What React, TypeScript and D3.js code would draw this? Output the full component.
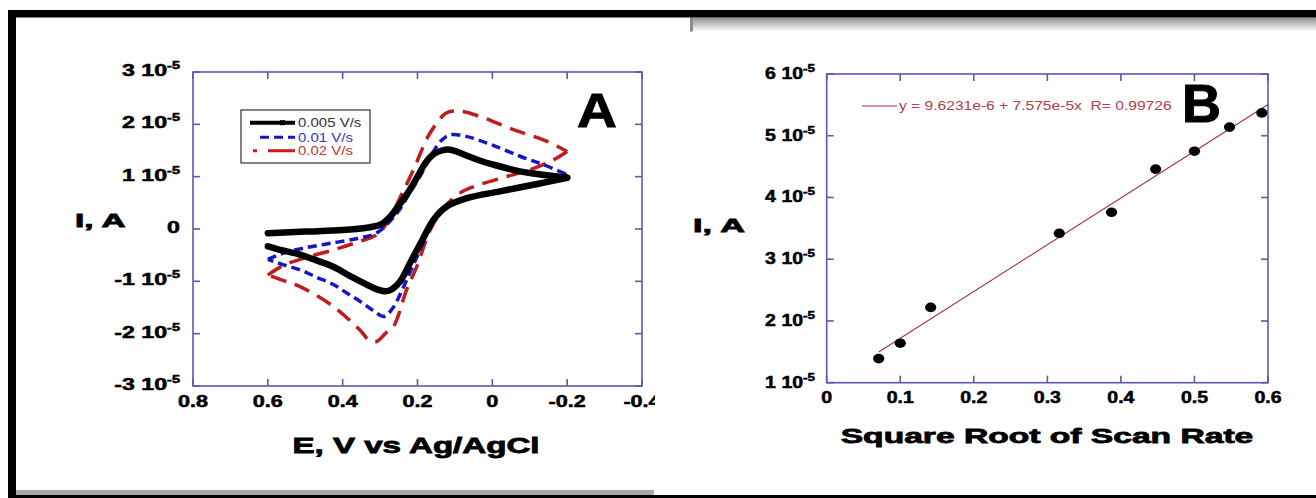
import React from "react";
import * as d3 from "d3";

const W = 1316;
const H = 498;
const FONT = "'Liberation Sans', Arial, Helvetica, sans-serif";
const AXIS = "#5a5ab0";

// Panel A: cyclic voltammograms, [E (V), I (1e-5 A)]
const cvLabels = ["0.005 V/s", "0.01 V/s", "0.02 V/s"];

const cv005Fwd: [number, number][] = [
  [0.6, -0.08], [0.5, -0.05], [0.4, -0.02], [0.34, 0.02], [0.3, 0.08], [0.275, 0.22],
  [0.25, 0.45], [0.225, 0.7], [0.2, 1.0], [0.18, 1.25], [0.157, 1.43], [0.135, 1.5],
  [0.118, 1.52], [0.095, 1.48], [0.068, 1.4], [0.03, 1.3], [-0.003, 1.23],
  [-0.074, 1.1], [-0.12, 1.05], [-0.2, 0.98],
];
const cv005Rev: [number, number][] = [
  [-0.2, 0.98], [-0.12, 0.86], [-0.02, 0.72], [0.068, 0.59], [0.122, 0.43], [0.157, 0.18],
  [0.19, -0.25], [0.22, -0.65], [0.246, -1.0], [0.268, -1.15], [0.285, -1.19],
  [0.31, -1.15], [0.336, -1.06], [0.38, -0.9], [0.425, -0.72], [0.47, -0.6],
  [0.514, -0.49], [0.56, -0.41], [0.6, -0.33],
];
const cv01Fwd: [number, number][] = [
  [0.6, -0.58], [0.55, -0.44], [0.5, -0.36], [0.43, -0.27], [0.36, -0.18], [0.31, -0.08],
  [0.28, 0.1], [0.25, 0.35], [0.22, 0.7], [0.19, 1.05], [0.16, 1.45], [0.135, 1.7],
  [0.113, 1.8], [0.07, 1.77], [0.006, 1.62], [-0.074, 1.39], [-0.14, 1.22], [-0.2, 1.04],
];
const cv01Rev: [number, number][] = [
  [-0.2, 1.04], [-0.12, 0.88], [-0.02, 0.74], [0.07, 0.6], [0.125, 0.42], [0.16, 0.12],
  [0.19, -0.35], [0.215, -0.75], [0.24, -1.15], [0.265, -1.5], [0.29, -1.67],
  [0.32, -1.55], [0.354, -1.38], [0.39, -1.22], [0.425, -1.06], [0.47, -0.92],
  [0.514, -0.78], [0.56, -0.68], [0.6, -0.58],
];
const cv02Fwd: [number, number][] = [
  [0.6, -0.88], [0.56, -0.7], [0.5, -0.55], [0.425, -0.4], [0.36, -0.25], [0.31, -0.11],
  [0.282, 0.11], [0.25, 0.55], [0.211, 1.13], [0.166, 1.84], [0.122, 2.22], [0.086, 2.25],
  [0.033, 2.15], [-0.056, 1.9], [-0.145, 1.68], [-0.2, 1.48],
];
const cv02Rev: [number, number][] = [
  [-0.2, 1.48], [-0.163, 1.32], [-0.1, 1.13], [-0.038, 1.0], [0.033, 0.85], [0.086, 0.69],
  [0.13, 0.4], [0.166, -0.02], [0.202, -0.72], [0.229, -1.16], [0.264, -1.86],
  [0.285, -1.99], [0.309, -2.15], [0.33, -2.12], [0.354, -1.93], [0.425, -1.48],
  [0.514, -1.1], [0.56, -0.98], [0.6, -0.88],
];

const eTicks = [0.8, 0.6, 0.4, 0.2, 0, -0.2, -0.4];
const iTicksA = [3, 2, 1, 0, -1, -2, -3];

// Panel B: peak current vs square root of scan rate
const sqrtRate = [0.0707, 0.1, 0.1414, 0.3162, 0.3873, 0.4472, 0.5, 0.5477, 0.5916];
const peakI = [1.39, 1.64, 2.22, 3.42, 3.76, 4.46, 4.75, 5.14, 5.37]; // 1e-5 A
const fitIntercept = 9.6231e-6;
const fitSlope = 7.575e-5;
const fitLabel = "y = 9.6231e-6 + 7.575e-5x  R= 0.99726";
const rTicks = [0, 0.1, 0.2, 0.3, 0.4, 0.5, 0.6];
const iTicksB = [6, 5, 4, 3, 2, 1];

function ST(props: any) {
  const { x, y, sx = 1, size, anchor = "middle", weight = "bold", fill = "#000", heavy = 0, children } = props;
  return (
    <text
      transform={`translate(${x},${y}) scale(${sx},1)`}
      fontSize={size}
      fontWeight={weight}
      textAnchor={anchor}
      fill={fill}
      stroke={heavy ? fill : "none"}
      strokeWidth={heavy}
      fontFamily={FONT}
      style={{ whiteSpace: "pre" }}
    >
      {children}
    </text>
  );
}

function sciLabel(v: number, supSize: number) {
  if (v === 0) return "0";
  return [
    <tspan key="m">{`${v} 10`}</tspan>,
    <tspan key="s" dy={-7} fontSize={supSize}>-5</tspan>,
  ];
}

function PanelA() {
  const x = d3.scaleLinear().domain([0.8, -0.4]).range([193, 642]);
  const y = d3.scaleLinear().domain([-3, 3]).range([386, 72]);
  const line = d3
    .line<[number, number]>()
    .x((d) => x(d[0]))
    .y((d) => y(d[1]))
    .curve(d3.curveCatmullRom.alpha(0.5));
  const [x0, x1] = x.range();
  const [y0, y1] = y.range();
  const tk = 7;
  const red = "#c01c1c";
  const blue = "#1515c8";

  return (
    <g>
      <rect x={x0} y={y1} width={x1 - x0} height={y0 - y1} fill="none" stroke={AXIS} strokeWidth={1.6} />
      {eTicks.map((t) => (
        <g key={"ex" + t}>
          <line x1={x(t)} x2={x(t)} y1={y0} y2={y0 - tk} stroke={AXIS} strokeWidth={1.6} />
          <line x1={x(t)} x2={x(t)} y1={y1} y2={y1 + tk} stroke={AXIS} strokeWidth={1.6} />
          <ST x={x(t)} y={y0 + 21} sx={1.35} size={16} heavy={0.5}>{String(t)}</ST>
        </g>
      ))}
      {iTicksA.map((t) => (
        <g key={"iy" + t}>
          <line x1={x0} x2={x0 + tk} y1={y(t)} y2={y(t)} stroke={AXIS} strokeWidth={1.6} />
          <line x1={x1} x2={x1 - tk} y1={y(t)} y2={y(t)} stroke={AXIS} strokeWidth={1.6} />
          <ST x={180} y={y(t) + 4} sx={1.45} size={16} anchor="end" heavy={0.5}>{sciLabel(t, 10)}</ST>
        </g>
      ))}

      <path d={line(cv02Fwd) || ""} fill="none" stroke={red} strokeWidth={3.5} strokeDasharray="16,9" />
      <path d={line(cv02Rev) || ""} fill="none" stroke={red} strokeWidth={3.5} strokeDasharray="16,9" />
      <path d={line(cv01Fwd) || ""} fill="none" stroke={blue} strokeWidth={3.5} strokeDasharray="9,5" />
      <path d={line(cv01Rev) || ""} fill="none" stroke={blue} strokeWidth={3.5} strokeDasharray="9,5" />
      <path d={line(cv005Fwd) || ""} fill="none" stroke="#000" strokeWidth={6.5} strokeLinecap="round" strokeLinejoin="round" />
      <path d={line(cv005Rev) || ""} fill="none" stroke="#000" strokeWidth={6.5} strokeLinecap="round" strokeLinejoin="round" />

      {/* legend */}
      <rect x={241} y={110} width={129} height={53} fill="#fff" stroke="#333" strokeWidth={1.2} />
      <line x1={250} x2={295} y1={122.7} y2={122.7} stroke="#000" strokeWidth={4} />
      <rect x={280} y={120.2} width={5} height={5} fill="#000" />
      <line x1={260} x2={295} y1={137.3} y2={137.3} stroke={blue} strokeWidth={3} strokeDasharray="9,5" />
      <line x1={253} x2={295} y1={150.7} y2={150.7} stroke={red} strokeWidth={3} strokeDasharray="4,11,27" />
      <ST x={298} y={127} sx={1.2} size={12.5} anchor="start" weight="normal" fill="#333">{cvLabels[0]}</ST>
      <ST x={298} y={141.6} sx={1.2} size={12.5} anchor="start" weight="normal" fill="#3535c0">{cvLabels[1]}</ST>
      <ST x={298} y={155} sx={1.2} size={12.5} anchor="start" weight="normal" fill="#c03535">{cvLabels[2]}</ST>

      <ST x={597} y={127} sx={1.15} size={48} heavy={1}>A</ST>
      <ST x={75} y={227} sx={1.75} size={19} anchor="start" heavy={0.8}>I, A</ST>
      <ST x={416} y={452.7} sx={1.54} size={21.5} heavy={0.8}>E, V vs Ag/AgCl</ST>
    </g>
  );
}

function PanelB() {
  const x = d3.scaleLinear().domain([0, 0.6]).range([826.7, 1268]);
  const y = d3.scaleLinear().domain([1, 6]).range([382.7, 74]);
  const [x0, x1] = x.range();
  const [y0, y1] = y.range();
  const tk = 7;
  const fitColor = "#a3303c";
  const fitX = [sqrtRate[0], 0.6];
  const fitLine = d3
    .line<number>()
    .x((d) => x(d))
    .y((d) => y((fitIntercept + fitSlope * d) * 1e5));

  return (
    <g>
      <rect x={x0} y={y1} width={x1 - x0} height={y0 - y1} fill="none" stroke={AXIS} strokeWidth={1.6} />
      {rTicks.map((t) => (
        <g key={"rx" + t}>
          <line x1={x(t)} x2={x(t)} y1={y0} y2={y0 - tk} stroke={AXIS} strokeWidth={1.6} />
          <line x1={x(t)} x2={x(t)} y1={y1} y2={y1 + tk} stroke={AXIS} strokeWidth={1.6} />
          <ST x={x(t)} y={y0 + 20.7} sx={1.22} size={16} heavy={0.5}>{String(t)}</ST>
        </g>
      ))}
      {iTicksB.map((t) => (
        <g key={"by" + t}>
          <line x1={x0} x2={x0 + tk} y1={y(t)} y2={y(t)} stroke={AXIS} strokeWidth={1.6} />
          <line x1={x1} x2={x1 - tk} y1={y(t)} y2={y(t)} stroke={AXIS} strokeWidth={1.6} />
          <ST x={815} y={y(t) + 5} sx={1.22} size={16} anchor="end" heavy={0.5}>{sciLabel(t, 11)}</ST>
        </g>
      ))}

      <path d={fitLine(fitX) || ""} fill="none" stroke={fitColor} strokeWidth={1.1} />
      {sqrtRate.map((r, i) => (
        <ellipse key={"p" + i} cx={x(r)} cy={y(peakI[i])} rx={5.6} ry={4.8} fill="#000" />
      ))}

      <line x1={862} x2={897} y1={106} y2={106} stroke={fitColor} strokeWidth={1.1} />
      <ST x={899} y={110} sx={1.3} size={12} anchor="start" weight="normal" fill="#b0404c">{fitLabel}</ST>

      <ST x={1201.5} y={122} sx={1.02} size={53} heavy={1}>B</ST>
      <ST x={693} y={232} sx={1.8} size={19} anchor="start" heavy={0.8}>I, A</ST>
      <ST x={1047} y={443} sx={1.64} size={20.5} heavy={0.8}>Square Root of Scan Rate</ST>
    </g>
  );
}

export default function App() {
  return (
    <svg width={W} height={H} style={{ position: "absolute", left: 0, top: 0, display: "block" }}>
      <defs>
        <linearGradient id="topFade" x1="0" y1="0" x2="0" y2="1">
          <stop offset="0" stopColor="#8e8e8e" />
          <stop offset="1" stopColor="#ffffff" />
        </linearGradient>
      </defs>
      <rect x={0} y={0} width={W} height={H} fill="#fff" />
      <PanelA />
      <rect x={655} y={17.5} width={W - 655} height={477.5} fill="#fff" />
      <rect x={690} y={17.5} width={W - 690} height={14} fill="url(#topFade)" />
      <rect x={690} y={17.5} width={3} height={14} fill="#8a8a8a" />
      <PanelB />
      <rect x={16} y={490} width={638} height={5} fill="#a8a8a8" />
      <rect x={8} y={10} width={W - 8} height={7.5} fill="#000" />
      <rect x={8} y={10} width={8} height={H - 10} fill="#000" />
      <rect x={8} y={495} width={W - 8} height={3} fill="#000" />
    </svg>
  );
}
